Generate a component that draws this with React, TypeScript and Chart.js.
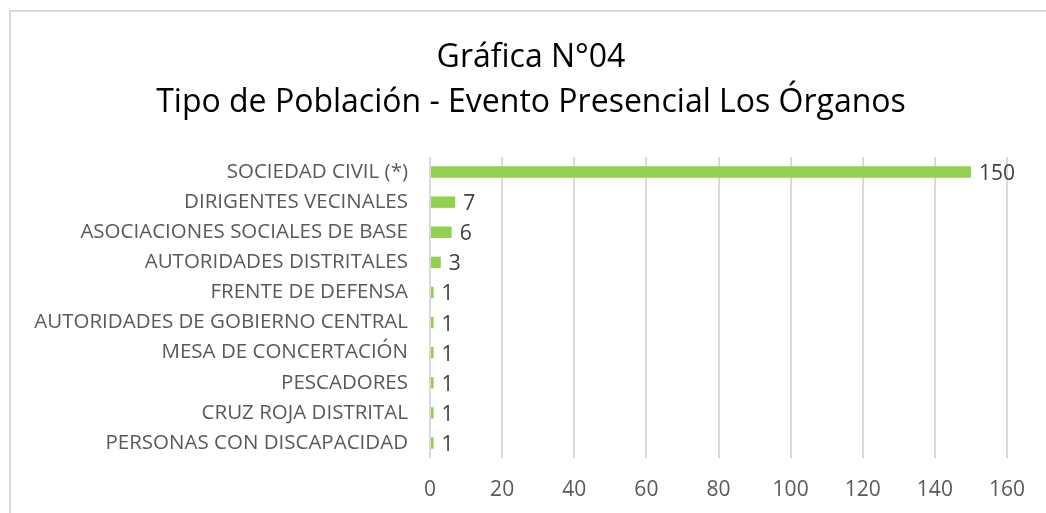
import React, { useEffect, useRef } from "react";
import { Chart, registerables } from "chart.js";

Chart.register(...registerables);

const categories = [
  "SOCIEDAD CIVIL (*)",
  "DIRIGENTES VECINALES",
  "ASOCIACIONES SOCIALES DE BASE",
  "AUTORIDADES DISTRITALES",
  "FRENTE DE DEFENSA",
  "AUTORIDADES DE GOBIERNO CENTRAL",
  "MESA DE CONCERTACIÓN",
  "PESCADORES",
  "CRUZ ROJA DISTRITAL",
  "PERSONAS CON DISCAPACIDAD",
];
const values = [150, 7, 6, 3, 1, 1, 1, 1, 1, 1];
const titleLines = ["Gráfica N°04", "Tipo de Población - Evento Presencial Los Órganos"];
const xMin = 0;
const xMax = 160;
const xStep = 20;

const FONT = "'Open Sans', 'Noto Sans', sans-serif";

const valueLabels = {
  id: "valueLabels",
  afterDatasetsDraw(chart: any) {
    const ctx = chart.ctx;
    const meta = chart.getDatasetMeta(0);
    ctx.save();
    ctx.font = `21px ${FONT}`;
    ctx.fillStyle = "#404040";
    ctx.textAlign = "left";
    ctx.textBaseline = "middle";
    meta.data.forEach((bar: any, i: number) => {
      ctx.fillText(String(chart.data.datasets[0].data[i]), bar.x + 8, bar.y + 2);
    });
    ctx.restore();
  },
};

const titleDraw = {
  id: "titleDraw",
  afterDraw(chart: any) {
    const ctx = chart.ctx;
    ctx.save();
    ctx.font = `32px ${FONT}`;
    ctx.fillStyle = "#000000";
    ctx.textAlign = "center";
    ctx.textBaseline = "middle";
    titleLines.forEach((line, i) => {
      ctx.fillText(line, 531, 58 + i * 45);
    });
    ctx.restore();
  },
};

export default function App() {
  const ref = useRef<HTMLCanvasElement>(null);
  useEffect(() => {
    document.body.style.margin = "0";
    document.body.style.overflow = "hidden";
    const chart = new Chart(ref.current!, {
      type: "bar",
      data: {
        labels: categories,
        datasets: [
          {
            data: values,
            backgroundColor: "#92D050",
            barPercentage: 0.38,
            categoryPercentage: 1,
          },
        ],
      },
      options: {
        indexAxis: "y",
        animation: false,
        responsive: false,
        layout: { padding: { left: 0, right: 39, top: 157, bottom: 0 } },
        plugins: {
          legend: { display: false },
          tooltip: { enabled: false },
          title: { display: false },
        },
        scales: {
          x: {
            min: xMin,
            max: xMax,
            ticks: {
              stepSize: xStep,
              color: "#595959",
              font: { family: FONT, size: 21 },
              padding: 19,
            },
            grid: { color: "#d9d9d9", lineWidth: 2, drawTicks: false },
            border: { display: false },
            afterFit(scale: any) {
              scale.height = 55;
            },
          },
          y: {
            ticks: {
              color: "#595959",
              font: { family: FONT, size: 20.5 },
              padding: 22,
              autoSkip: false,
            },
            grid: { display: false, drawTicks: false },
            border: { display: false },
            afterFit(scale: any) {
              scale.width = 430;
            },
          },
        },
      },
      plugins: [valueLabels, titleDraw],
    });
    return () => chart.destroy();
  }, []);
  return (
    <div style={{ position: "fixed", left: 0, top: 0, width: 1046, height: 513, overflow: "hidden", background: "#fff" }}>
      <div
        style={{
          position: "absolute",
          left: 9,
          top: 10,
          width: 1100,
          height: 600,
          border: "2px solid #d9d9d9",
        }}
      />
      <canvas ref={ref} width={1046} height={513} style={{ position: "absolute", left: 0, top: 0 }} />
    </div>
  );
}
